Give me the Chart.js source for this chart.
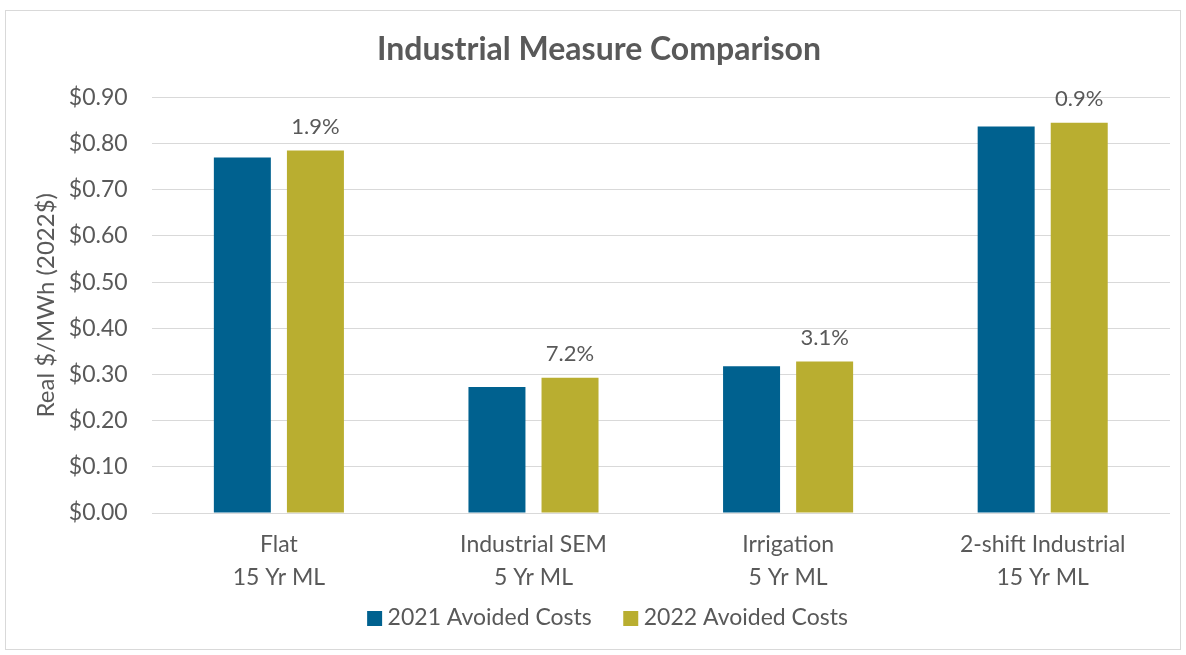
<!DOCTYPE html>
<html>
<head>
<meta charset="utf-8">
<script src="https://cdn.jsdelivr.net/npm/chart.js@4"></script>
<style>
  html, body { margin: 0; padding: 0; background: #ffffff; }
  #wrap { position: absolute; left: 5px; top: 10px; width: 1176px; height: 640px; border: 1px solid #d9d9d9; box-sizing: border-box; }
  canvas { display: block; }
</style>
</head>
<body>
<div id="wrap"><canvas id="c"></canvas></div>
<script>
const categories = [["Flat", "15 Yr ML"], ["Industrial SEM", "5 Yr ML"], ["Irrigation", "5 Yr ML"], ["2-shift Industrial", "15 Yr ML"]];
const costs2021 = [0.770, 0.273, 0.318, 0.837];
const costs2022 = [0.785, 0.293, 0.328, 0.845];
const changeLabels = ["1.9%", "7.2%", "3.1%", "0.9%"];
const seriesNames = ["2021 Avoided Costs", "2022 Avoided Costs"];
const seriesColors = ["#00618f", "#b9ae30"];

const FONT = "Lato, 'Open Sans', sans-serif";
const GREY = "#595959";

// legend swatch: a 15px square that sits 6px before the legend text
const SLOT = 26, SQ = 15, GAP = 6, HALF_FONT = 11.5;
const IMG_W = 40;
function makeSwatch(color) {
  const c = document.createElement('canvas');
  c.width = IMG_W; c.height = SQ;
  const g = c.getContext('2d');
  g.fillStyle = color;
  // image is centred on the slot centre; text starts at slot end + HALF_FONT
  const sqLeft = IMG_W / 2 + SLOT / 2 + HALF_FONT - GAP - SQ;
  g.fillRect(Math.round(sqLeft), 0, SQ, SQ);
  return c;
}
const swatches = seriesColors.map(makeSwatch);

const pctLabels = {
  id: 'pctLabels',
  afterDatasetsDraw(chart) {
    const ctx = chart.ctx;
    const meta = chart.getDatasetMeta(1);
    ctx.save();
    ctx.font = "22px " + FONT;
    ctx.fillStyle = GREY;
    ctx.textAlign = "center";
    ctx.textBaseline = "middle";
    meta.data.forEach((bar, i) => {
      ctx.fillText(changeLabels[i], bar.x, bar.y - 24);
    });
    ctx.restore();
  }
};

new Chart(document.getElementById('c'), {
  type: 'bar',
  data: {
    labels: categories,
    datasets: [
      { label: seriesNames[0], data: costs2021, backgroundColor: seriesColors[0] },
      { label: seriesNames[1], data: costs2022, backgroundColor: seriesColors[1] }
    ]
  },
  options: {
    responsive: true,
    maintainAspectRatio: false,
    animation: false,
    datasets: { bar: { categoryPercentage: 0.574, barPercentage: 0.78 } },
    layout: { padding: { left: 22, right: 10, top: 8, bottom: 9.5 } },
    plugins: {
      title: {
        display: true,
        text: "Industrial Measure Comparison",
        color: GREY,
        font: { family: FONT, size: 32, weight: 'bold' },
        padding: { top: 11, bottom: 29 }
      },
      legend: {
        position: 'bottom',
        labels: {
          color: GREY,
          font: { family: FONT, size: 23 },
          usePointStyle: true,
          pointStyleWidth: SLOT,
          boxHeight: SQ,
          padding: 14.5,
          generateLabels(chart) {
            const items = Chart.defaults.plugins.legend.labels.generateLabels(chart);
            items.forEach((it, i) => { it.pointStyle = swatches[i]; });
            return items;
          }
        }
      },
      tooltip: { enabled: false }
    },
    scales: {
      x: {
        grid: { display: false, drawTicks: false },
        border: { display: false },
        ticks: { color: GREY, font: { family: FONT, size: 23, lineHeight: 1.435 }, padding: 15.5, maxRotation: 0 },
        afterFit(scale) { scale.height = 79; }
      },
      y: {
        min: 0, max: 0.9,
        grid: { color: '#d9d9d9', lineWidth: 1, drawTicks: false },
        border: { display: false },
        ticks: {
          stepSize: 0.1,
          color: GREY,
          font: { family: FONT, size: 23 },
          padding: 24,
          callback: v => '$' + Number(v).toFixed(2)
        },
        title: {
          display: true,
          text: "Real $/MWh (2022$)",
          color: GREY,
          font: { family: FONT, size: 24 },
          padding: { top: 4, bottom: -16 }
        }
      }
    }
  },
  plugins: [pctLabels]
});
</script>
</body>
</html>
